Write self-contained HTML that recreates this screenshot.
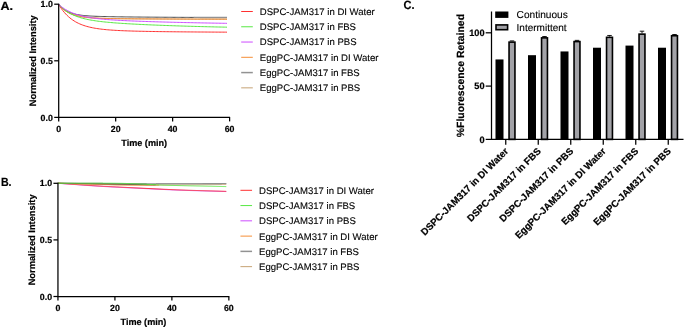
<!DOCTYPE html>
<html><head><meta charset="utf-8"><title>Figure</title>
<style>
html,body{margin:0;padding:0;background:#fff;}
svg{display:block;}
text{font-family:"Liberation Sans",sans-serif;fill:#000;text-rendering:geometricPrecision;}
.r{stroke:#000;stroke-width:0.12px;}
.b{font-weight:bold;stroke:#000;stroke-width:0.2px;}
</style></head><body>
<svg width="685" height="328" viewBox="0 0 685 328">
<rect width="685" height="328" fill="#fff"/>
<g transform="translate(0 0)">
<path d="M58.70 4.40 L59.83 5.71 L60.96 6.88 L62.09 7.91 L63.22 8.84 L64.35 9.66 L65.48 10.39 L66.61 11.04 L67.74 11.62 L68.87 12.14 L70.01 12.60 L71.14 13.01 L72.27 13.38 L73.40 13.70 L74.53 14.00 L75.66 14.26 L76.79 14.50 L77.92 14.71 L79.05 14.90 L80.18 15.07 L81.31 15.22 L82.44 15.36 L83.57 15.49 L84.70 15.60 L85.83 15.70 L86.96 15.80 L88.09 15.88 L89.22 15.96 L90.35 16.03 L91.48 16.09 L92.62 16.15 L93.75 16.20 L94.88 16.25 L96.01 16.30 L97.14 16.34 L98.27 16.38 L99.40 16.42 L100.53 16.46 L101.66 16.49 L102.79 16.52 L103.92 16.55 L105.05 16.57 L106.18 16.60 L107.31 16.62 L108.44 16.65 L109.57 16.67 L110.70 16.69 L111.83 16.71 L112.96 16.73 L114.09 16.75 L115.22 16.77 L116.36 16.78 L117.49 16.80 L118.62 16.82 L119.75 16.83 L120.88 16.85 L122.01 16.86 L123.14 16.88 L124.27 16.89 L125.40 16.91 L126.53 16.92 L127.66 16.93 L128.79 16.95 L129.92 16.96 L131.05 16.97 L132.18 16.98 L133.31 16.99 L134.44 17.01 L135.57 17.02 L136.70 17.03 L137.84 17.04 L138.97 17.05 L140.10 17.06 L141.23 17.07 L142.36 17.08 L143.49 17.09 L144.62 17.10 L145.75 17.11 L146.88 17.12 L148.01 17.13 L149.14 17.14 L150.27 17.15 L151.40 17.15 L152.53 17.16 L153.66 17.17 L154.79 17.18 L155.92 17.19 L157.05 17.20 L158.18 17.20 L159.31 17.21 L160.44 17.22 L161.58 17.23 L162.71 17.24 L163.84 17.24 L164.97 17.25 L166.10 17.26 L167.23 17.26 L168.36 17.27 L169.49 17.28 L170.62 17.28 L171.75 17.29 L172.88 17.30 L174.01 17.30 L175.14 17.31 L176.27 17.32 L177.40 17.32 L178.53 17.33 L179.66 17.33 L180.79 17.34 L181.92 17.35 L183.06 17.35 L184.19 17.36 L185.32 17.36 L186.45 17.37 L187.58 17.37 L188.71 17.38 L189.84 17.38 L190.97 17.39 L192.10 17.39 L193.23 17.40 L194.36 17.40" fill="none" stroke="#333" stroke-width="0.9" stroke-linejoin="round"/>
<path d="M193.79 17.40 L194.07 17.40 L194.34 17.40 L194.62 17.40 L194.90 17.40 L195.17 17.41 L195.45 17.41 L195.73 17.41 L196.00 17.41 L196.28 17.41 L196.56 17.41 L196.83 17.41 L197.11 17.41 L197.39 17.41 L197.66 17.42 L197.94 17.42 L198.22 17.42 L198.49 17.42 L198.77 17.42 L199.05 17.42 L199.32 17.42 L199.60 17.42 L199.88 17.42 L200.15 17.43 L200.43 17.43 L200.71 17.43 L200.98 17.43 L201.26 17.43 L201.54 17.43 L201.81 17.43 L202.09 17.43 L202.37 17.43 L202.64 17.43 L202.92 17.44 L203.20 17.44 L203.47 17.44 L203.75 17.44 L204.03 17.44 L204.30 17.44 L204.58 17.44 L204.86 17.44 L205.13 17.44 L205.41 17.44 L205.69 17.45 L205.96 17.45 L206.24 17.45 L206.52 17.45 L206.79 17.45 L207.07 17.45 L207.35 17.45 L207.62 17.45 L207.90 17.45 L208.18 17.45 L208.45 17.46 L208.73 17.46 L209.01 17.46 L209.28 17.46 L209.56 17.46 L209.84 17.46 L210.11 17.46 L210.39 17.46 L210.67 17.46 L210.94 17.46 L211.22 17.46 L211.50 17.47 L211.77 17.47 L212.05 17.47 L212.33 17.47 L212.60 17.47 L212.88 17.47 L213.16 17.47 L213.43 17.47 L213.71 17.47 L213.99 17.47 L214.26 17.47 L214.54 17.48 L214.82 17.48 L215.09 17.48 L215.37 17.48 L215.65 17.48 L215.93 17.48 L216.20 17.48 L216.48 17.48 L216.76 17.48 L217.03 17.48 L217.31 17.48 L217.59 17.48 L217.86 17.49 L218.14 17.49 L218.42 17.49 L218.69 17.49 L218.97 17.49 L219.25 17.49 L219.52 17.49 L219.80 17.49 L220.08 17.49 L220.35 17.49 L220.63 17.49 L220.91 17.49 L221.18 17.50 L221.46 17.50 L221.74 17.50 L222.01 17.50 L222.29 17.50 L222.57 17.50 L222.84 17.50 L223.12 17.50 L223.40 17.50 L223.67 17.50 L223.95 17.50 L224.23 17.50 L224.50 17.50 L224.78 17.51 L225.06 17.51 L225.33 17.51 L225.61 17.51 L225.89 17.51 L226.16 17.51 L226.44 17.51 L226.72 17.51 L226.99 17.51" fill="none" stroke="#929292" stroke-width="1.4" stroke-linejoin="round"/>
<path d="M58.70 4.40 L60.10 6.08 L61.50 7.55 L62.91 8.85 L64.31 10.00 L65.71 11.00 L67.11 11.89 L68.52 12.67 L69.92 13.36 L71.32 13.97 L72.72 14.51 L74.13 14.98 L75.53 15.40 L76.93 15.77 L78.33 16.09 L79.74 16.38 L81.14 16.64 L82.54 16.86 L83.94 17.07 L85.35 17.24 L86.75 17.40 L88.15 17.54 L89.55 17.67 L90.96 17.78 L92.36 17.88 L93.76 17.97 L95.16 18.05 L96.57 18.12 L97.97 18.19 L99.37 18.25 L100.77 18.30 L102.18 18.35 L103.58 18.39 L104.98 18.43 L106.38 18.47 L107.79 18.50 L109.19 18.53 L110.59 18.56 L111.99 18.59 L113.40 18.61 L114.80 18.63 L116.20 18.65 L117.60 18.67 L119.00 18.69 L120.41 18.71 L121.81 18.72 L123.21 18.74 L124.61 18.75 L126.02 18.77 L127.42 18.78 L128.82 18.79 L130.22 18.81 L131.63 18.82 L133.03 18.83 L134.43 18.84 L135.83 18.85 L137.24 18.86 L138.64 18.87 L140.04 18.88 L141.44 18.89 L142.85 18.90 L144.25 18.90 L145.65 18.91 L147.05 18.92 L148.46 18.93 L149.86 18.94 L151.26 18.94 L152.66 18.95 L154.07 18.96 L155.47 18.96 L156.87 18.97 L158.27 18.98 L159.68 18.98 L161.08 18.99 L162.48 19.00 L163.88 19.00 L165.29 19.01 L166.69 19.01 L168.09 19.02 L169.49 19.02 L170.90 19.03 L172.30 19.04 L173.70 19.04 L175.10 19.05 L176.50 19.05 L177.91 19.06 L179.31 19.06 L180.71 19.07 L182.11 19.07 L183.52 19.07 L184.92 19.08 L186.32 19.08 L187.72 19.09 L189.13 19.09 L190.53 19.10 L191.93 19.10 L193.33 19.10 L194.74 19.11 L196.14 19.11 L197.54 19.11 L198.94 19.12 L200.35 19.12 L201.75 19.13 L203.15 19.13 L204.55 19.13 L205.96 19.14 L207.36 19.14 L208.76 19.14 L210.16 19.14 L211.57 19.15 L212.97 19.15 L214.37 19.15 L215.77 19.16 L217.18 19.16 L218.58 19.16 L219.98 19.16 L221.38 19.17 L222.79 19.17 L224.19 19.17 L225.59 19.18 L226.99 19.18" fill="none" stroke="#c6a274" stroke-width="1.0" stroke-linejoin="round"/>
<path d="M58.70 4.40 L60.10 6.08 L61.50 7.55 L62.91 8.85 L64.31 10.00 L65.71 11.00 L67.11 11.89 L68.52 12.67 L69.92 13.36 L71.32 13.97 L72.72 14.51 L74.13 14.98 L75.53 15.40 L76.93 15.77 L78.33 16.09 L79.74 16.38 L81.14 16.64 L82.54 16.86 L83.94 17.07 L85.35 17.24 L86.75 17.40 L88.15 17.54 L89.55 17.67 L90.96 17.78 L92.36 17.88 L93.76 17.97 L95.16 18.05 L96.57 18.12 L97.97 18.19 L99.37 18.25 L100.77 18.30 L102.18 18.35 L103.58 18.39 L104.98 18.43 L106.38 18.47 L107.79 18.50 L109.19 18.53 L110.59 18.56 L111.99 18.59 L113.40 18.61 L114.80 18.63 L116.20 18.65 L117.60 18.67 L119.00 18.69 L120.41 18.71 L121.81 18.72 L123.21 18.74 L124.61 18.75 L126.02 18.77 L127.42 18.78 L128.82 18.79 L130.22 18.81 L131.63 18.82 L133.03 18.83 L134.43 18.84 L135.83 18.85 L137.24 18.86 L138.64 18.87 L140.04 18.88 L141.44 18.89 L142.85 18.90 L144.25 18.90 L145.65 18.91 L147.05 18.92 L148.46 18.93 L149.86 18.94 L151.26 18.94 L152.66 18.95 L154.07 18.96 L155.47 18.96 L156.87 18.97 L158.27 18.98 L159.68 18.98 L161.08 18.99 L162.48 19.00 L163.88 19.00 L165.29 19.01 L166.69 19.01 L168.09 19.02 L169.49 19.02 L170.90 19.03 L172.30 19.04 L173.70 19.04 L175.10 19.05 L176.50 19.05 L177.91 19.06 L179.31 19.06 L180.71 19.07 L182.11 19.07 L183.52 19.07 L184.92 19.08 L186.32 19.08 L187.72 19.09 L189.13 19.09 L190.53 19.10 L191.93 19.10 L193.33 19.10 L194.74 19.11 L196.14 19.11 L197.54 19.11 L198.94 19.12 L200.35 19.12 L201.75 19.13 L203.15 19.13 L204.55 19.13 L205.96 19.14 L207.36 19.14 L208.76 19.14 L210.16 19.14 L211.57 19.15 L212.97 19.15 L214.37 19.15 L215.77 19.16 L217.18 19.16 L218.58 19.16 L219.98 19.16 L221.38 19.17 L222.79 19.17 L224.19 19.17 L225.59 19.18 L226.99 19.18" fill="none" stroke="#f68e36" stroke-width="1.0" stroke-linejoin="round"/>
<path d="M58.70 4.40 L60.10 6.68 L61.50 8.76 L62.91 10.66 L64.31 12.39 L65.71 13.97 L67.11 15.41 L68.52 16.73 L69.92 17.93 L71.32 19.03 L72.72 20.03 L74.13 20.95 L75.53 21.79 L76.93 22.55 L78.33 23.25 L79.74 23.90 L81.14 24.48 L82.54 25.02 L83.94 25.51 L85.35 25.97 L86.75 26.38 L88.15 26.76 L89.55 27.11 L90.96 27.43 L92.36 27.73 L93.76 28.00 L95.16 28.25 L96.57 28.48 L97.97 28.69 L99.37 28.89 L100.77 29.07 L102.18 29.24 L103.58 29.40 L104.98 29.54 L106.38 29.68 L107.79 29.80 L109.19 29.92 L110.59 30.02 L111.99 30.12 L113.40 30.22 L114.80 30.31 L116.20 30.39 L117.60 30.46 L119.00 30.54 L120.41 30.60 L121.81 30.67 L123.21 30.73 L124.61 30.79 L126.02 30.84 L127.42 30.89 L128.82 30.94 L130.22 30.98 L131.63 31.03 L133.03 31.07 L134.43 31.11 L135.83 31.15 L137.24 31.18 L138.64 31.22 L140.04 31.25 L141.44 31.28 L142.85 31.31 L144.25 31.34 L145.65 31.37 L147.05 31.40 L148.46 31.42 L149.86 31.45 L151.26 31.47 L152.66 31.49 L154.07 31.52 L155.47 31.54 L156.87 31.56 L158.27 31.58 L159.68 31.60 L161.08 31.62 L162.48 31.64 L163.88 31.66 L165.29 31.68 L166.69 31.69 L168.09 31.71 L169.49 31.73 L170.90 31.74 L172.30 31.76 L173.70 31.77 L175.10 31.79 L176.50 31.80 L177.91 31.82 L179.31 31.83 L180.71 31.84 L182.11 31.86 L183.52 31.87 L184.92 31.88 L186.32 31.90 L187.72 31.91 L189.13 31.92 L190.53 31.93 L191.93 31.94 L193.33 31.95 L194.74 31.96 L196.14 31.97 L197.54 31.99 L198.94 32.00 L200.35 32.01 L201.75 32.01 L203.15 32.02 L204.55 32.03 L205.96 32.04 L207.36 32.05 L208.76 32.06 L210.16 32.07 L211.57 32.08 L212.97 32.09 L214.37 32.09 L215.77 32.10 L217.18 32.11 L218.58 32.12 L219.98 32.13 L221.38 32.13 L222.79 32.14 L224.19 32.15 L225.59 32.15 L226.99 32.16" fill="none" stroke="#ff3030" stroke-width="1.0" stroke-linejoin="round"/>
<path d="M58.70 4.40 L60.10 5.89 L61.50 7.26 L62.91 8.51 L64.31 9.65 L65.71 10.69 L67.11 11.65 L68.52 12.53 L69.92 13.33 L71.32 14.08 L72.72 14.76 L74.13 15.38 L75.53 15.96 L76.93 16.49 L78.33 16.99 L79.74 17.44 L81.14 17.86 L82.54 18.25 L83.94 18.62 L85.35 18.96 L86.75 19.27 L88.15 19.56 L89.55 19.84 L90.96 20.10 L92.36 20.34 L93.76 20.57 L95.16 20.78 L96.57 20.98 L97.97 21.17 L99.37 21.35 L100.77 21.52 L102.18 21.69 L103.58 21.84 L104.98 21.99 L106.38 22.13 L107.79 22.26 L109.19 22.39 L110.59 22.52 L111.99 22.64 L113.40 22.75 L114.80 22.86 L116.20 22.97 L117.60 23.07 L119.00 23.17 L120.41 23.27 L121.81 23.36 L123.21 23.46 L124.61 23.54 L126.02 23.63 L127.42 23.72 L128.82 23.80 L130.22 23.88 L131.63 23.96 L133.03 24.04 L134.43 24.11 L135.83 24.18 L137.24 24.26 L138.64 24.33 L140.04 24.40 L141.44 24.47 L142.85 24.53 L144.25 24.60 L145.65 24.66 L147.05 24.73 L148.46 24.79 L149.86 24.85 L151.26 24.91 L152.66 24.97 L154.07 25.03 L155.47 25.09 L156.87 25.14 L158.27 25.20 L159.68 25.25 L161.08 25.31 L162.48 25.36 L163.88 25.42 L165.29 25.47 L166.69 25.52 L168.09 25.57 L169.49 25.62 L170.90 25.67 L172.30 25.72 L173.70 25.76 L175.10 25.81 L176.50 25.86 L177.91 25.90 L179.31 25.95 L180.71 25.99 L182.11 26.04 L183.52 26.08 L184.92 26.12 L186.32 26.17 L187.72 26.21 L189.13 26.25 L190.53 26.29 L191.93 26.33 L193.33 26.37 L194.74 26.41 L196.14 26.45 L197.54 26.49 L198.94 26.52 L200.35 26.56 L201.75 26.60 L203.15 26.63 L204.55 26.67 L205.96 26.70 L207.36 26.74 L208.76 26.77 L210.16 26.81 L211.57 26.84 L212.97 26.87 L214.37 26.91 L215.77 26.94 L217.18 26.97 L218.58 27.00 L219.98 27.03 L221.38 27.06 L222.79 27.09 L224.19 27.12 L225.59 27.15 L226.99 27.18" fill="none" stroke="#58e844" stroke-width="1.0" stroke-linejoin="round"/>
<path d="M58.70 4.40 L60.10 5.62 L61.50 6.74 L62.91 7.77 L64.31 8.72 L65.71 9.59 L67.11 10.40 L68.52 11.14 L69.92 11.83 L71.32 12.46 L72.72 13.04 L74.13 13.59 L75.53 14.09 L76.93 14.55 L78.33 14.98 L79.74 15.38 L81.14 15.75 L82.54 16.09 L83.94 16.41 L85.35 16.71 L86.75 16.98 L88.15 17.24 L89.55 17.48 L90.96 17.71 L92.36 17.92 L93.76 18.12 L95.16 18.31 L96.57 18.48 L97.97 18.65 L99.37 18.80 L100.77 18.95 L102.18 19.09 L103.58 19.22 L104.98 19.35 L106.38 19.47 L107.79 19.58 L109.19 19.69 L110.59 19.79 L111.99 19.89 L113.40 19.98 L114.80 20.08 L116.20 20.16 L117.60 20.25 L119.00 20.33 L120.41 20.40 L121.81 20.48 L123.21 20.55 L124.61 20.62 L126.02 20.69 L127.42 20.75 L128.82 20.82 L130.22 20.88 L131.63 20.94 L133.03 21.00 L134.43 21.06 L135.83 21.11 L137.24 21.17 L138.64 21.22 L140.04 21.27 L141.44 21.33 L142.85 21.38 L144.25 21.42 L145.65 21.47 L147.05 21.52 L148.46 21.57 L149.86 21.61 L151.26 21.66 L152.66 21.70 L154.07 21.74 L155.47 21.79 L156.87 21.83 L158.27 21.87 L159.68 21.91 L161.08 21.95 L162.48 21.99 L163.88 22.03 L165.29 22.07 L166.69 22.10 L168.09 22.14 L169.49 22.18 L170.90 22.21 L172.30 22.25 L173.70 22.28 L175.10 22.32 L176.50 22.35 L177.91 22.39 L179.31 22.42 L180.71 22.45 L182.11 22.48 L183.52 22.52 L184.92 22.55 L186.32 22.58 L187.72 22.61 L189.13 22.64 L190.53 22.67 L191.93 22.70 L193.33 22.73 L194.74 22.76 L196.14 22.79 L197.54 22.82 L198.94 22.84 L200.35 22.87 L201.75 22.90 L203.15 22.93 L204.55 22.95 L205.96 22.98 L207.36 23.00 L208.76 23.03 L210.16 23.05 L211.57 23.08 L212.97 23.10 L214.37 23.13 L215.77 23.15 L217.18 23.18 L218.58 23.20 L219.98 23.22 L221.38 23.25 L222.79 23.27 L224.19 23.29 L225.59 23.31 L226.99 23.34" fill="none" stroke="#cd4cff" stroke-width="1.0" stroke-linejoin="round"/>
<path d="M58.7 3.7V117.4H230.1" fill="none" stroke="#000" stroke-width="1.25"/>
<path d="M54.2 4.20H58.7" stroke="#000" stroke-width="1.25"/><text class="b" x="52.8" y="7.35" font-size="8.8" text-anchor="end">1.0</text>
<path d="M54.2 60.80H58.7" stroke="#000" stroke-width="1.25"/><text class="b" x="52.8" y="63.95" font-size="8.8" text-anchor="end">0.5</text>
<path d="M54.2 117.40H58.7" stroke="#000" stroke-width="1.25"/><text class="b" x="52.8" y="120.55" font-size="8.8" text-anchor="end">0.0</text>
<path d="M58.70 117.4V121.4" stroke="#000" stroke-width="1.25"/><text class="b" x="58.70" y="131.70" font-size="8.8" text-anchor="middle">0</text>
<path d="M115.67 117.4V121.4" stroke="#000" stroke-width="1.25"/><text class="b" x="115.67" y="131.70" font-size="8.8" text-anchor="middle">20</text>
<path d="M172.63 117.4V121.4" stroke="#000" stroke-width="1.25"/><text class="b" x="172.63" y="131.70" font-size="8.8" text-anchor="middle">40</text>
<path d="M229.60 117.4V121.4" stroke="#000" stroke-width="1.25"/><text class="b" x="229.60" y="131.70" font-size="8.8" text-anchor="middle">60</text>
<text class="b" x="144.2" y="145.60" font-size="9.1" text-anchor="middle">Time (min)</text>
<text class="b" transform="translate(36.2 60.80) rotate(-90)" font-size="9.3" text-anchor="middle">Normalized Intensity</text>
<text class="b" x="0.5" y="9.70" font-size="12" textLength="12.6" lengthAdjust="spacingAndGlyphs">A.</text>
<path d="M241.20 11.50H252.80" stroke="#ff3030" stroke-width="1"/><text class="r" x="259.80" y="14.95" font-size="9.57">DSPC-JAM317 in DI Water</text>
<path d="M241.20 26.77H252.80" stroke="#58e844" stroke-width="1"/><text class="r" x="259.80" y="30.22" font-size="9.57">DSPC-JAM317 in FBS</text>
<path d="M241.20 42.04H252.80" stroke="#cd4cff" stroke-width="1"/><text class="r" x="259.80" y="45.49" font-size="9.57">DSPC-JAM317 in PBS</text>
<path d="M241.20 57.31H252.80" stroke="#f68e36" stroke-width="1"/><text class="r" x="259.80" y="60.76" font-size="9.57">EggPC-JAM317 in DI Water</text>
<path d="M241.20 72.58H252.80" stroke="#929292" stroke-width="1.5"/><text class="r" x="259.80" y="76.03" font-size="9.57">EggPC-JAM317 in FBS</text>
<path d="M241.20 87.85H252.80" stroke="#c6a274" stroke-width="1"/><text class="r" x="259.80" y="91.30" font-size="9.57">EggPC-JAM317 in PBS</text>
</g>
<g transform="translate(-0.75 0)">
<path d="M58.70 183.30 L59.69 183.37 L60.68 183.45 L61.67 183.52 L62.66 183.59 L63.65 183.67 L64.64 183.74 L65.63 183.81 L66.62 183.88 L67.61 183.96 L68.60 184.03 L69.59 184.10 L70.58 184.18 L71.57 184.25 L72.56 184.32 L73.55 184.40 L74.54 184.47 L75.53 184.54 L76.52 184.62 L77.51 184.69 L78.50 184.76 L79.49 184.84 L80.48 184.91 L81.47 184.98 L82.46 185.05 L83.45 185.13 L84.44 185.20 L85.43 185.27 L86.42 185.35 L87.41 185.42 L88.40 185.49 L89.39 185.56 L90.38 185.63 L91.37 185.69 L92.36 185.76 L93.35 185.83 L94.34 185.89 L95.33 185.96 L96.32 186.02 L97.31 186.09 L98.30 186.15 L99.29 186.21 L100.28 186.27 L101.27 186.33 L102.26 186.39 L103.25 186.45 L104.24 186.51 L105.23 186.56 L106.22 186.62 L107.21 186.68 L108.20 186.73 L109.19 186.78 L110.18 186.84 L111.17 186.89 L112.16 186.94 L113.15 186.99 L114.14 187.04 L115.13 187.09 L116.12 187.14 L117.11 187.19 L118.10 187.23 L119.09 187.28 L120.08 187.33 L121.07 187.38 L122.06 187.43 L123.05 187.48 L124.04 187.53 L125.03 187.57 L126.02 187.62 L127.01 187.67 L128.00 187.72 L128.99 187.77 L129.98 187.82 L130.97 187.86 L131.96 187.91 L132.95 187.96 L133.94 188.01 L134.93 188.06 L135.92 188.11 L136.91 188.15 L137.90 188.20 L138.89 188.25 L139.88 188.30 L140.87 188.35 L141.86 188.40 L142.85 188.44 L143.84 188.49 L144.83 188.54 L145.82 188.59 L146.81 188.64 L147.80 188.69 L148.79 188.73 L149.78 188.78 L150.77 188.83 L151.76 188.88 L152.75 188.93 L153.74 188.97 L154.73 189.02 L155.72 189.07 L156.71 189.12 L157.70 189.17 L158.69 189.21 L159.68 189.26 L160.67 189.31 L161.66 189.36 L162.65 189.41 L163.64 189.46 L164.63 189.50 L165.62 189.55 L166.61 189.60 L167.60 189.64 L168.59 189.69 L169.58 189.74 L170.57 189.78 L171.56 189.82 L172.55 189.87 L173.54 189.91 L174.53 189.95 L175.52 189.99 L176.51 190.03 L177.50 190.07 L178.49 190.11 L179.48 190.15 L180.47 190.19 L181.46 190.22 L182.45 190.26 L183.44 190.30 L184.43 190.33 L185.42 190.37 L186.41 190.40 L187.40 190.43 L188.39 190.47 L189.38 190.50 L190.37 190.53 L191.36 190.56 L192.35 190.59 L193.34 190.62 L194.33 190.65 L195.32 190.67 L196.31 190.70 L197.30 190.73 L198.29 190.76 L199.28 190.78 L200.27 190.81 L201.26 190.84 L202.25 190.87 L203.24 190.89 L204.23 190.92 L205.22 190.95 L206.21 190.97 L207.20 191.00 L208.19 191.03 L209.18 191.06 L210.17 191.08 L211.16 191.11 L212.15 191.14 L213.14 191.17 L214.13 191.19 L215.12 191.22 L216.11 191.25 L217.10 191.28 L218.09 191.30 L219.08 191.33 L220.07 191.36 L221.06 191.39 L222.05 191.41 L223.04 191.44 L224.03 191.47 L225.02 191.50 L226.01 191.52 L227.00 191.55" fill="none" stroke="#cd4cff" stroke-width="0.9" stroke-linejoin="round"/>
<path d="M58.70 183.20 L59.69 183.27 L60.68 183.34 L61.67 183.41 L62.66 183.48 L63.65 183.55 L64.64 183.62 L65.63 183.69 L66.62 183.76 L67.61 183.83 L68.60 183.90 L69.59 183.96 L70.58 184.03 L71.57 184.10 L72.56 184.17 L73.55 184.24 L74.54 184.31 L75.53 184.38 L76.52 184.45 L77.51 184.52 L78.50 184.59 L79.49 184.66 L80.48 184.73 L81.47 184.80 L82.46 184.87 L83.45 184.94 L84.44 185.01 L85.43 185.08 L86.42 185.15 L87.41 185.21 L88.40 185.28 L89.39 185.35 L90.38 185.41 L91.37 185.48 L92.36 185.54 L93.35 185.61 L94.34 185.67 L95.33 185.73 L96.32 185.79 L97.31 185.86 L98.30 185.92 L99.29 185.98 L100.28 186.03 L101.27 186.09 L102.26 186.15 L103.25 186.21 L104.24 186.26 L105.23 186.32 L106.22 186.38 L107.21 186.43 L108.20 186.48 L109.19 186.54 L110.18 186.59 L111.17 186.64 L112.16 186.69 L113.15 186.74 L114.14 186.79 L115.13 186.84 L116.12 186.89 L117.11 186.94 L118.10 186.98 L119.09 187.03 L120.08 187.08 L121.07 187.13 L122.06 187.18 L123.05 187.23 L124.04 187.28 L125.03 187.32 L126.02 187.37 L127.01 187.42 L128.00 187.47 L128.99 187.52 L129.98 187.57 L130.97 187.61 L131.96 187.66 L132.95 187.71 L133.94 187.76 L134.93 187.81 L135.92 187.86 L136.91 187.90 L137.90 187.95 L138.89 188.00 L139.88 188.05 L140.87 188.10 L141.86 188.15 L142.85 188.19 L143.84 188.24 L144.83 188.29 L145.82 188.34 L146.81 188.39 L147.80 188.44 L148.79 188.48 L149.78 188.53 L150.77 188.58 L151.76 188.63 L152.75 188.68 L153.74 188.72 L154.73 188.77 L155.72 188.82 L156.71 188.87 L157.70 188.92 L158.69 188.96 L159.68 189.01 L160.67 189.06 L161.66 189.11 L162.65 189.16 L163.64 189.21 L164.63 189.25 L165.62 189.30 L166.61 189.35 L167.60 189.39 L168.59 189.44 L169.58 189.49 L170.57 189.53 L171.56 189.57 L172.55 189.62 L173.54 189.66 L174.53 189.70 L175.52 189.74 L176.51 189.79 L177.50 189.83 L178.49 189.86 L179.48 189.90 L180.47 189.94 L181.46 189.98 L182.45 190.02 L183.44 190.05 L184.43 190.09 L185.42 190.12 L186.41 190.16 L187.40 190.19 L188.39 190.23 L189.38 190.26 L190.37 190.29 L191.36 190.32 L192.35 190.35 L193.34 190.38 L194.33 190.41 L195.32 190.44 L196.31 190.47 L197.30 190.50 L198.29 190.53 L199.28 190.55 L200.27 190.58 L201.26 190.61 L202.25 190.64 L203.24 190.67 L204.23 190.70 L205.22 190.72 L206.21 190.75 L207.20 190.78 L208.19 190.81 L209.18 190.84 L210.17 190.87 L211.16 190.90 L212.15 190.92 L213.14 190.95 L214.13 190.98 L215.12 191.01 L216.11 191.04 L217.10 191.07 L218.09 191.09 L219.08 191.12 L220.07 191.15 L221.06 191.18 L222.05 191.21 L223.04 191.24 L224.03 191.26 L225.02 191.29 L226.01 191.32 L227.00 191.35" fill="none" stroke="#ff3030" stroke-width="0.9" stroke-linejoin="round"/>
<path d="M58.70 183.20 L59.69 183.20 L60.68 183.21 L61.67 183.21 L62.66 183.22 L63.65 183.22 L64.64 183.23 L65.63 183.23 L66.62 183.24 L67.61 183.24 L68.60 183.25 L69.59 183.25 L70.58 183.26 L71.57 183.26 L72.56 183.27 L73.55 183.27 L74.54 183.28 L75.53 183.28 L76.52 183.29 L77.51 183.29 L78.50 183.30 L79.49 183.30 L80.48 183.31 L81.47 183.31 L82.46 183.32 L83.45 183.32 L84.44 183.32 L85.43 183.33 L86.42 183.33 L87.41 183.34 L88.40 183.34 L89.39 183.35 L90.38 183.35 L91.37 183.36 L92.36 183.36 L93.35 183.37 L94.34 183.37 L95.33 183.38 L96.32 183.38 L97.31 183.39 L98.30 183.40 L99.29 183.40 L100.28 183.41 L101.27 183.41 L102.26 183.42 L103.25 183.42 L104.24 183.43 L105.23 183.43 L106.22 183.44 L107.21 183.44 L108.20 183.45 L109.19 183.46 L110.18 183.46 L111.17 183.47 L112.16 183.47 L113.15 183.48 L114.14 183.48 L115.13 183.49 L116.12 183.50 L117.11 183.50 L118.10 183.51 L119.09 183.51 L120.08 183.52 L121.07 183.53 L122.06 183.53 L123.05 183.54 L124.04 183.54 L125.03 183.55 L126.02 183.56 L127.01 183.56 L128.00 183.57 L128.99 183.57 L129.98 183.58 L130.97 183.59 L131.96 183.59 L132.95 183.60 L133.94 183.60 L134.93 183.61 L135.92 183.62 L136.91 183.62 L137.90 183.63 L138.89 183.63 L139.88 183.64 L140.87 183.64 L141.86 183.65 L142.85 183.65 L143.84 183.66 L144.83 183.66 L145.82 183.67 L146.81 183.67 L147.80 183.68 L148.79 183.68 L149.78 183.69 L150.77 183.69 L151.76 183.70 L152.75 183.70 L153.74 183.71 L154.73 183.71 L155.72 183.72 L156.71 183.72 L157.70 183.72 L158.69 183.73 L159.68 183.73 L160.67 183.73 L161.66 183.74 L162.65 183.74 L163.64 183.75 L164.63 183.75 L165.62 183.75 L166.61 183.75 L167.60 183.76 L168.59 183.76 L169.58 183.76 L170.57 183.76 L171.56 183.77 L172.55 183.77 L173.54 183.77 L174.53 183.77 L175.52 183.77 L176.51 183.77 L177.50 183.77 L178.49 183.77 L179.48 183.77 L180.47 183.77 L181.46 183.77 L182.45 183.76 L183.44 183.76 L184.43 183.76 L185.42 183.76 L186.41 183.75 L187.40 183.75 L188.39 183.75 L189.38 183.75 L190.37 183.74 L191.36 183.74 L192.35 183.73 L193.34 183.73 L194.33 183.72 L195.32 183.72 L196.31 183.71 L197.30 183.71 L198.29 183.70 L199.28 183.70 L200.27 183.69 L201.26 183.69 L202.25 183.68 L203.24 183.68 L204.23 183.67 L205.22 183.67 L206.21 183.66 L207.20 183.66 L208.19 183.65 L209.18 183.64 L210.17 183.64 L211.16 183.63 L212.15 183.63 L213.14 183.62 L214.13 183.62 L215.12 183.61 L216.11 183.61 L217.10 183.60 L218.09 183.60 L219.08 183.59 L220.07 183.59 L221.06 183.58 L222.05 183.58 L223.04 183.57 L224.03 183.57 L225.02 183.56 L226.01 183.56 L227.00 183.55" fill="none" stroke="#929292" stroke-width="1.1" stroke-linejoin="round"/>
<path d="M58.70 183.20 L59.69 183.23 L60.68 183.27 L61.67 183.30 L62.66 183.33 L63.65 183.36 L64.64 183.40 L65.63 183.43 L66.62 183.46 L67.61 183.49 L68.60 183.52 L69.59 183.55 L70.58 183.59 L71.57 183.62 L72.56 183.65 L73.55 183.68 L74.54 183.71 L75.53 183.74 L76.52 183.77 L77.51 183.80 L78.50 183.83 L79.49 183.86 L80.48 183.88 L81.47 183.91 L82.46 183.94 L83.45 183.97 L84.44 184.00 L85.43 184.02 L86.42 184.05 L87.41 184.08 L88.40 184.10 L89.39 184.13 L90.38 184.16 L91.37 184.18 L92.36 184.21 L93.35 184.23 L94.34 184.26 L95.33 184.28 L96.32 184.31 L97.31 184.33 L98.30 184.35 L99.29 184.38 L100.28 184.40 L101.27 184.43 L102.26 184.45 L103.25 184.48 L104.24 184.50 L105.23 184.52 L106.22 184.55 L107.21 184.57 L108.20 184.60 L109.19 184.62 L110.18 184.64 L111.17 184.67 L112.16 184.69 L113.15 184.71 L114.14 184.73 L115.13 184.76 L116.12 184.78 L117.11 184.80 L118.10 184.82 L119.09 184.83 L120.08 184.85 L121.07 184.87 L122.06 184.89 L123.05 184.91 L124.04 184.92 L125.03 184.94 L126.02 184.95 L127.01 184.97 L128.00 184.98 L128.99 185.00 L129.98 185.01 L130.97 185.02 L131.96 185.03 L132.95 185.04 L133.94 185.05 L134.93 185.06 L135.92 185.07 L136.91 185.07 L137.90 185.08 L138.89 185.08 L139.88 185.09 L140.87 185.09 L141.86 185.09 L142.85 185.09 L143.84 185.09 L144.83 185.09 L145.82 185.09 L146.81 185.09 L147.80 185.09 L148.79 185.09 L149.78 185.09 L150.77 185.08 L151.76 185.08 L152.75 185.08 L153.74 185.07 L154.73 185.07 L155.72 185.06 L156.71 185.06 L157.70 185.05 L158.69 185.05 L159.68 185.04 L160.67 185.03 L161.66 185.02 L162.65 185.02 L163.64 185.01 L164.63 185.00 L165.62 184.99 L166.61 184.99 L167.60 184.98 L168.59 184.97 L169.58 184.96 L170.57 184.95 L171.56 184.95 L172.55 184.94 L173.54 184.93 L174.53 184.92 L175.52 184.91 L176.51 184.91 L177.50 184.90 L178.49 184.89 L179.48 184.88 L180.47 184.88 L181.46 184.87 L182.45 184.86 L183.44 184.85 L184.43 184.84 L185.42 184.84 L186.41 184.83 L187.40 184.82 L188.39 184.81 L189.38 184.80 L190.37 184.80 L191.36 184.79 L192.35 184.78 L193.34 184.77 L194.33 184.76 L195.32 184.76 L196.31 184.75 L197.30 184.74 L198.29 184.73 L199.28 184.72 L200.27 184.72 L201.26 184.71 L202.25 184.70 L203.24 184.69 L204.23 184.68 L205.22 184.68 L206.21 184.67 L207.20 184.66 L208.19 184.65 L209.18 184.64 L210.17 184.64 L211.16 184.63 L212.15 184.62 L213.14 184.61 L214.13 184.60 L215.12 184.60 L216.11 184.59 L217.10 184.58 L218.09 184.57 L219.08 184.56 L220.07 184.56 L221.06 184.55 L222.05 184.54 L223.04 184.53 L224.03 184.52 L225.02 184.52 L226.01 184.51 L227.00 184.50" fill="none" stroke="#c6a274" stroke-width="0.9" stroke-linejoin="round"/>
<path d="M58.70 183.20 L59.69 183.23 L60.68 183.27 L61.67 183.30 L62.66 183.33 L63.65 183.36 L64.64 183.40 L65.63 183.43 L66.62 183.46 L67.61 183.49 L68.60 183.52 L69.59 183.55 L70.58 183.59 L71.57 183.62 L72.56 183.65 L73.55 183.68 L74.54 183.71 L75.53 183.74 L76.52 183.77 L77.51 183.80 L78.50 183.83 L79.49 183.86 L80.48 183.88 L81.47 183.91 L82.46 183.94 L83.45 183.97 L84.44 184.00 L85.43 184.02 L86.42 184.05 L87.41 184.08 L88.40 184.10 L89.39 184.13 L90.38 184.16 L91.37 184.18 L92.36 184.21 L93.35 184.23 L94.34 184.26 L95.33 184.28 L96.32 184.31 L97.31 184.33 L98.30 184.35 L99.29 184.38 L100.28 184.40 L101.27 184.43 L102.26 184.45 L103.25 184.48 L104.24 184.50 L105.23 184.52 L106.22 184.55 L107.21 184.57 L108.20 184.60 L109.19 184.62 L110.18 184.64 L111.17 184.67 L112.16 184.69 L113.15 184.71 L114.14 184.73 L115.13 184.76 L116.12 184.78 L117.11 184.80 L118.10 184.82 L119.09 184.83 L120.08 184.85 L121.07 184.87 L122.06 184.89 L123.05 184.91 L124.04 184.92 L125.03 184.94 L126.02 184.95 L127.01 184.97 L128.00 184.98 L128.99 185.00 L129.98 185.01 L130.97 185.02 L131.96 185.03 L132.95 185.04 L133.94 185.05 L134.93 185.06 L135.92 185.07 L136.91 185.07 L137.90 185.08 L138.89 185.08 L139.88 185.09 L140.87 185.09 L141.86 185.09 L142.85 185.09 L143.84 185.09 L144.83 185.09 L145.82 185.09 L146.81 185.09 L147.80 185.09 L148.79 185.09 L149.78 185.09 L150.77 185.08 L151.76 185.08 L152.75 185.08 L153.74 185.07 L154.73 185.07 L155.72 185.06 L156.71 185.06 L157.70 185.05 L158.69 185.05 L159.68 185.04" fill="none" stroke="#f68e36" stroke-width="0.9" stroke-linejoin="round"/>
<path d="M58.70 183.20 L59.30 183.21 L59.89 183.22 L60.49 183.23 L61.08 183.23 L61.68 183.24 L62.28 183.25 L62.87 183.26 L63.47 183.27 L64.06 183.28 L64.66 183.29 L65.25 183.30 L65.85 183.30 L66.45 183.31 L67.04 183.32 L67.64 183.33 L68.23 183.34 L68.83 183.35 L69.43 183.36 L70.02 183.36 L70.62 183.37 L71.21 183.38 L71.81 183.39 L72.41 183.40 L73.00 183.41 L73.60 183.42 L74.19 183.43 L74.79 183.43 L75.38 183.44 L75.98 183.45 L76.58 183.46 L77.17 183.47 L77.77 183.48 L78.36 183.49 L78.96 183.49 L79.56 183.50 L80.15 183.51 L80.75 183.52 L81.34 183.53 L81.94 183.54 L82.54 183.55 L83.13 183.55 L83.73 183.56 L84.32 183.57 L84.92 183.58 L85.51 183.59 L86.11 183.60 L86.71 183.61 L87.30 183.62 L87.90 183.62 L88.49 183.63 L89.09 183.64 L89.69 183.65 L90.28 183.66 L90.88 183.67 L91.47 183.68 L92.07 183.69 L92.67 183.69 L93.26 183.70 L93.86 183.71 L94.45 183.72 L95.05 183.73 L95.64 183.74 L96.24 183.75 L96.84 183.76 L97.43 183.77 L98.03 183.78 L98.62 183.79 L99.22 183.80 L99.82 183.81 L100.41 183.82 L101.01 183.83 L101.60 183.84 L102.20 183.85 L102.80 183.86 L103.39 183.87 L103.99 183.88 L104.58 183.89 L105.18 183.91 L105.77 183.92 L106.37 183.93 L106.97 183.94 L107.56 183.95 L108.16 183.96 L108.75 183.98 L109.35 183.99 L109.95 184.00 L110.54 184.01 L111.14 184.02 L111.73 184.03 L112.33 184.05 L112.93 184.06 L113.52 184.07 L114.12 184.08 L114.71 184.09 L115.31 184.11 L115.90 184.12 L116.50 184.13 L117.10 184.14 L117.69 184.15 L118.29 184.16 L118.88 184.18 L119.48 184.19 L120.08 184.20 L120.67 184.21 L121.27 184.22 L121.86 184.23 L122.46 184.24 L123.06 184.25 L123.65 184.26 L124.25 184.28 L124.84 184.29 L125.44 184.30 L126.03 184.31 L126.63 184.32 L127.23 184.33 L127.82 184.34 L128.42 184.35 L129.01 184.36 L129.61 184.37 L130.21 184.38 L130.80 184.39 L131.40 184.39 L131.99 184.40 L132.59 184.41 L133.19 184.42 L133.78 184.43 L134.38 184.44 L134.97 184.45 L135.57 184.46 L136.16 184.47 L136.76 184.48 L137.36 184.49 L137.95 184.49 L138.55 184.50 L139.14 184.51 L139.74 184.52 L140.34 184.53 L140.93 184.54 L141.53 184.55 L142.12 184.56 L142.72 184.56 L143.32 184.57 L143.91 184.58 L144.51 184.59 L145.10 184.60 L145.70 184.61 L146.29 184.61 L146.89 184.62 L147.49 184.63 L148.08 184.64 L148.68 184.65 L149.27 184.66 L149.87 184.66 L150.47 184.67 L151.06 184.68 L151.66 184.69 L152.25 184.70 L152.85 184.70 L153.45 184.71 L154.04 184.72 L154.64 184.73 L155.23 184.74 L155.83 184.74 L156.42 184.75" fill="none" stroke="#3a3a30" stroke-width="0.9" stroke-linejoin="round"/>
<path d="M58.70 183.20 L59.69 183.20 L60.68 183.20 L61.67 183.20 L62.66 183.20 L63.65 183.20 L64.64 183.20 L65.63 183.20 L66.62 183.20 L67.61 183.20 L68.60 183.20 L69.59 183.20 L70.58 183.20 L71.57 183.20 L72.56 183.20 L73.55 183.20 L74.54 183.20 L75.53 183.20 L76.52 183.20 L77.51 183.20 L78.50 183.20 L79.49 183.20 L80.48 183.20 L81.47 183.20 L82.46 183.20 L83.45 183.20 L84.44 183.20 L85.43 183.20 L86.42 183.20 L87.41 183.20 L88.40 183.20 L89.39 183.20 L90.38 183.20 L91.37 183.20 L92.36 183.20 L93.35 183.20 L94.34 183.20 L95.33 183.20 L96.32 183.20 L97.31 183.20 L98.30 183.20 L99.29 183.20 L100.28 183.20 L101.27 183.20 L102.26 183.21 L103.25 183.21 L104.24 183.21 L105.23 183.21 L106.22 183.21 L107.21 183.22 L108.20 183.22 L109.19 183.22 L110.18 183.23 L111.17 183.23 L112.16 183.24 L113.15 183.24 L114.14 183.25 L115.13 183.26 L116.12 183.27 L117.11 183.29 L118.10 183.30 L119.09 183.32 L120.08 183.33 L121.07 183.35 L122.06 183.37 L123.05 183.39 L124.04 183.41 L125.03 183.44 L126.02 183.46 L127.01 183.49 L128.00 183.52 L128.99 183.54 L129.98 183.57 L130.97 183.61 L131.96 183.64 L132.95 183.67 L133.94 183.71 L134.93 183.74 L135.92 183.78 L136.91 183.82 L137.90 183.86 L138.89 183.91 L139.88 183.95 L140.87 183.99 L141.86 184.04 L142.85 184.09 L143.84 184.13 L144.83 184.18 L145.82 184.23 L146.81 184.27 L147.80 184.32 L148.79 184.37 L149.78 184.42 L150.77 184.47 L151.76 184.52 L152.75 184.56 L153.74 184.61 L154.73 184.66 L155.72 184.70 L156.71 184.75 L157.70 184.79 L158.69 184.83 L159.68 184.88 L160.67 184.92 L161.66 184.96 L162.65 185.01 L163.64 185.05 L164.63 185.09 L165.62 185.13 L166.61 185.16 L167.60 185.20 L168.59 185.24 L169.58 185.27 L170.57 185.31 L171.56 185.34 L172.55 185.37 L173.54 185.40 L174.53 185.43 L175.52 185.46 L176.51 185.49 L177.50 185.52 L178.49 185.54 L179.48 185.57 L180.47 185.59 L181.46 185.61 L182.45 185.64 L183.44 185.66 L184.43 185.68 L185.42 185.71 L186.41 185.73 L187.40 185.75 L188.39 185.77 L189.38 185.80 L190.37 185.82 L191.36 185.84 L192.35 185.86 L193.34 185.88 L194.33 185.90 L195.32 185.93 L196.31 185.95 L197.30 185.97 L198.29 185.99 L199.28 186.01 L200.27 186.03 L201.26 186.05 L202.25 186.07 L203.24 186.09 L204.23 186.12 L205.22 186.14 L206.21 186.16 L207.20 186.18 L208.19 186.20 L209.18 186.22 L210.17 186.24 L211.16 186.26 L212.15 186.28 L213.14 186.31 L214.13 186.33 L215.12 186.35 L216.11 186.37 L217.10 186.39 L218.09 186.41 L219.08 186.43 L220.07 186.45 L221.06 186.47 L222.05 186.49 L223.04 186.52 L224.03 186.54 L225.02 186.56 L226.01 186.58 L227.00 186.60" fill="none" stroke="#58e844" stroke-width="0.9" stroke-linejoin="round"/>
<path d="M156.71 183.72 L157.70 183.72 L158.69 183.73 L159.68 183.73 L160.67 183.73 L161.66 183.74 L162.65 183.74 L163.64 183.75 L164.63 183.75 L165.62 183.75 L166.61 183.75 L167.60 183.76 L168.59 183.76 L169.58 183.76 L170.57 183.76 L171.56 183.77 L172.55 183.77 L173.54 183.77 L174.53 183.77 L175.52 183.77 L176.51 183.77 L177.50 183.77 L178.49 183.77 L179.48 183.77 L180.47 183.77 L181.46 183.77 L182.45 183.76 L183.44 183.76 L184.43 183.76 L185.42 183.76 L186.41 183.75 L187.40 183.75 L188.39 183.75 L189.38 183.75 L190.37 183.74 L191.36 183.74 L192.35 183.73 L193.34 183.73 L194.33 183.72 L195.32 183.72 L196.31 183.71 L197.30 183.71 L198.29 183.70 L199.28 183.70 L200.27 183.69 L201.26 183.69 L202.25 183.68 L203.24 183.68 L204.23 183.67 L205.22 183.67 L206.21 183.66 L207.20 183.66 L208.19 183.65 L209.18 183.64 L210.17 183.64 L211.16 183.63 L212.15 183.63 L213.14 183.62 L214.13 183.62 L215.12 183.61 L216.11 183.61 L217.10 183.60 L218.09 183.60 L219.08 183.59 L220.07 183.59 L221.06 183.58 L222.05 183.58 L223.04 183.57 L224.03 183.57 L225.02 183.56 L226.01 183.56 L227.00 183.55" fill="none" stroke="#929292" stroke-width="1.1" stroke-linejoin="round"/>
<path d="M58.7 182.79999999999998V296.5H230.1" fill="none" stroke="#000" stroke-width="1.25"/>
<path d="M54.2 183.30H58.7" stroke="#000" stroke-width="1.25"/><text class="b" x="52.8" y="186.45" font-size="8.8" text-anchor="end">1.0</text>
<path d="M54.2 239.90H58.7" stroke="#000" stroke-width="1.25"/><text class="b" x="52.8" y="243.05" font-size="8.8" text-anchor="end">0.5</text>
<path d="M54.2 296.50H58.7" stroke="#000" stroke-width="1.25"/><text class="b" x="52.8" y="299.65" font-size="8.8" text-anchor="end">0.0</text>
<path d="M58.70 296.5V300.5" stroke="#000" stroke-width="1.25"/><text class="b" x="58.70" y="310.80" font-size="8.8" text-anchor="middle">0</text>
<path d="M115.67 296.5V300.5" stroke="#000" stroke-width="1.25"/><text class="b" x="115.67" y="310.80" font-size="8.8" text-anchor="middle">20</text>
<path d="M172.63 296.5V300.5" stroke="#000" stroke-width="1.25"/><text class="b" x="172.63" y="310.80" font-size="8.8" text-anchor="middle">40</text>
<path d="M229.60 296.5V300.5" stroke="#000" stroke-width="1.25"/><text class="b" x="229.60" y="310.80" font-size="8.8" text-anchor="middle">60</text>
<text class="b" x="144.2" y="324.70" font-size="9.1" text-anchor="middle">Time (min)</text>
<text class="b" transform="translate(36.2 239.90) rotate(-90)" font-size="9.3" text-anchor="middle">Normalized Intensity</text>
<text class="b" x="1.65" y="186.00" font-size="12" textLength="10.6" lengthAdjust="spacingAndGlyphs">B.</text>
<path d="M241.20 190.30H252.80" stroke="#ff3030" stroke-width="1"/><text class="r" x="259.80" y="193.75" font-size="9.57">DSPC-JAM317 in DI Water</text>
<path d="M241.20 205.57H252.80" stroke="#58e844" stroke-width="1"/><text class="r" x="259.80" y="209.02" font-size="9.57">DSPC-JAM317 in FBS</text>
<path d="M241.20 220.84H252.80" stroke="#cd4cff" stroke-width="1"/><text class="r" x="259.80" y="224.29" font-size="9.57">DSPC-JAM317 in PBS</text>
<path d="M241.20 236.11H252.80" stroke="#f68e36" stroke-width="1"/><text class="r" x="259.80" y="239.56" font-size="9.57">EggPC-JAM317 in DI Water</text>
<path d="M241.20 251.38H252.80" stroke="#929292" stroke-width="1.5"/><text class="r" x="259.80" y="254.83" font-size="9.57">EggPC-JAM317 in FBS</text>
<path d="M241.20 266.65H252.80" stroke="#c6a274" stroke-width="1"/><text class="r" x="259.80" y="270.10" font-size="9.57">EggPC-JAM317 in PBS</text>
</g>
<rect x="495.50" y="59.45" width="8" height="79.95" fill="#000"/><rect x="509.05" y="42.13" width="5.9" height="97.27" fill="#a2a2a7" stroke="#000" stroke-width="1.6"/><path d="M512.00 41.33V40.90M509.75 40.90H514.25" stroke="#000" stroke-width="0.9" fill="none"/>
<rect x="528.00" y="55.19" width="8" height="84.21" fill="#000"/><rect x="541.55" y="37.86" width="5.9" height="101.54" fill="#a2a2a7" stroke="#000" stroke-width="1.6"/><path d="M544.50 37.06V36.53M542.25 36.53H546.75" stroke="#000" stroke-width="0.9" fill="none"/>
<rect x="560.50" y="51.45" width="8" height="87.95" fill="#000"/><rect x="574.05" y="41.59" width="5.9" height="97.81" fill="#a2a2a7" stroke="#000" stroke-width="1.6"/><path d="M577.00 40.80V40.37M574.75 40.37H579.25" stroke="#000" stroke-width="0.9" fill="none"/>
<rect x="593.00" y="47.72" width="8" height="91.68" fill="#000"/><rect x="606.55" y="37.33" width="5.9" height="102.07" fill="#a2a2a7" stroke="#000" stroke-width="1.6"/><path d="M609.50 36.53V35.47M607.25 35.47H611.75" stroke="#000" stroke-width="0.9" fill="none"/>
<rect x="625.50" y="45.59" width="8" height="93.81" fill="#000"/><rect x="639.05" y="34.13" width="5.9" height="105.27" fill="#a2a2a7" stroke="#000" stroke-width="1.6"/><path d="M642.00 33.33V31.20M639.75 31.20H644.25" stroke="#000" stroke-width="0.9" fill="none"/>
<rect x="658.00" y="47.72" width="8" height="91.68" fill="#000"/><rect x="671.55" y="35.73" width="5.9" height="103.67" fill="#a2a2a7" stroke="#000" stroke-width="1.6"/><path d="M674.50 34.93V34.51M672.25 34.51H676.75" stroke="#000" stroke-width="0.9" fill="none"/>
<path d="M491.5 11.5V139.4H683.5" fill="none" stroke="#000" stroke-width="1.25"/>
<path d="M485.7 139.40H491.5" stroke="#000" stroke-width="1.25"/><text class="b" x="484.6" y="142.70" font-size="9.2" text-anchor="end">0</text>
<path d="M485.7 86.10H491.5" stroke="#000" stroke-width="1.25"/><text class="b" x="484.6" y="89.40" font-size="9.2" text-anchor="end">50</text>
<path d="M485.7 32.80H491.5" stroke="#000" stroke-width="1.25"/><text class="b" x="484.6" y="36.10" font-size="9.2" text-anchor="end">100</text>
<path d="M505.75 139.4V144.70000000000002" stroke="#000" stroke-width="1.25"/><text class="b" transform="translate(508.95 151.80) rotate(-45)" font-size="9.65" text-anchor="end">DSPC-JAM317 in DI Water</text>
<path d="M538.25 139.4V144.70000000000002" stroke="#000" stroke-width="1.25"/><text class="b" transform="translate(541.45 151.80) rotate(-45)" font-size="9.65" text-anchor="end">DSPC-JAM317 in FBS</text>
<path d="M570.75 139.4V144.70000000000002" stroke="#000" stroke-width="1.25"/><text class="b" transform="translate(573.95 151.80) rotate(-45)" font-size="9.65" text-anchor="end">DSPC-JAM317 in PBS</text>
<path d="M603.25 139.4V144.70000000000002" stroke="#000" stroke-width="1.25"/><text class="b" transform="translate(606.45 151.80) rotate(-45)" font-size="9.65" text-anchor="end">EggPC-JAM317 in DI Water</text>
<path d="M635.75 139.4V144.70000000000002" stroke="#000" stroke-width="1.25"/><text class="b" transform="translate(638.95 151.80) rotate(-45)" font-size="9.65" text-anchor="end">EggPC-JAM317 in FBS</text>
<path d="M668.25 139.4V144.70000000000002" stroke="#000" stroke-width="1.25"/><text class="b" transform="translate(671.45 151.80) rotate(-45)" font-size="9.65" text-anchor="end">EggPC-JAM317 in PBS</text>
<text class="b" transform="translate(463.7 75.6) rotate(-90)" font-size="10.42" text-anchor="middle">%Fluorescence Retained</text>
<text class="b" x="403.5" y="9.4" font-size="12" textLength="11" lengthAdjust="spacingAndGlyphs">C.</text>
<rect x="495.2" y="11.5" width="13.2" height="6.4" fill="#000"/><text class="r" x="516.6" y="18.3" font-size="10.15">Continuous</text>
<rect x="496.0" y="24.9" width="11.6" height="4.8" fill="#a2a2a7" stroke="#000" stroke-width="1.6"/><text class="r" x="516.6" y="30.5" font-size="10">Intermittent</text>
</svg>
</body></html>
